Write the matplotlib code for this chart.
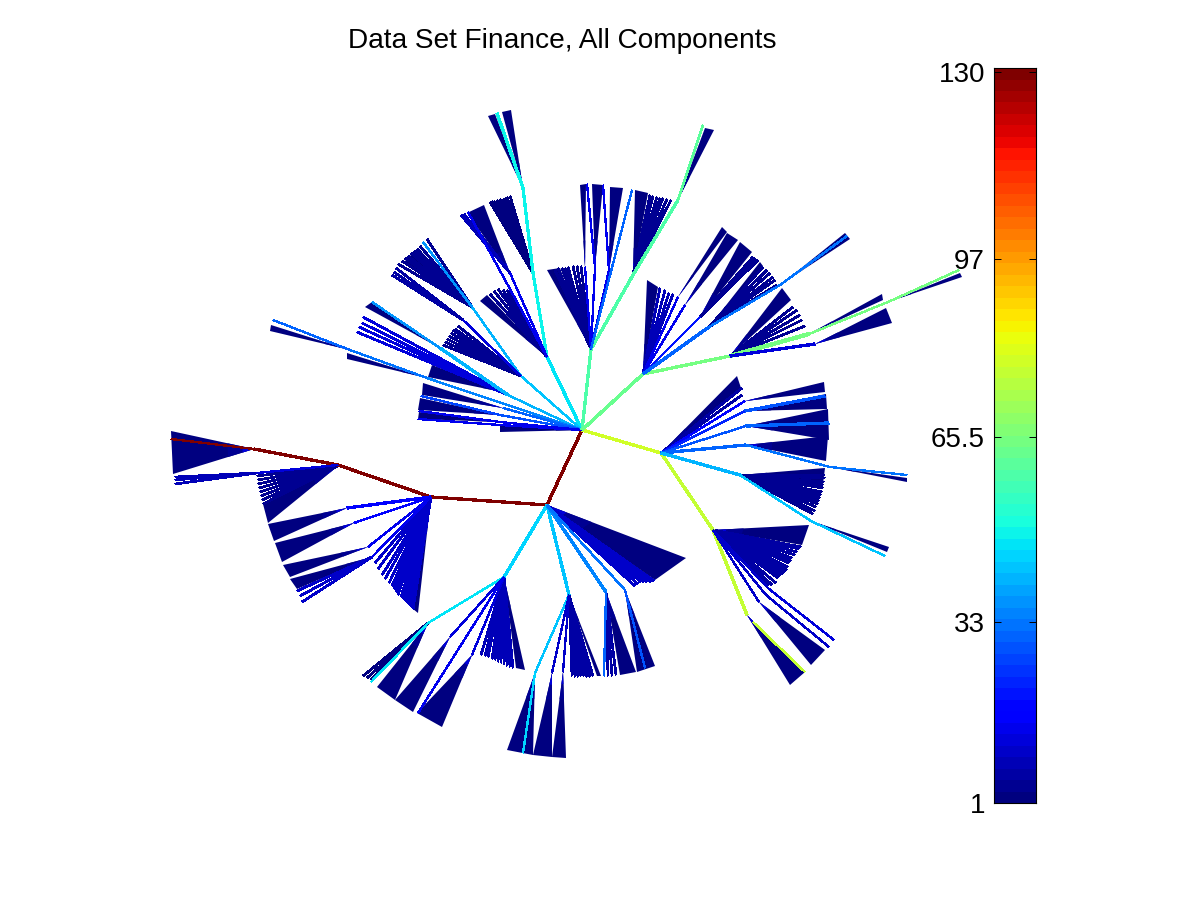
from matplotlib import pyplot as plt
import numpy as np
plt.rcParams['font.family'] = ['Liberation Sans', 'DejaVu Sans']

# colour value of every edge goes through the colorbar scale
clim = (1, 130.7)
cbar_ticks = [1, 33, 65.5, 97, 130]
cbar_labels = ['1', '33', '65.5', '97', '130']
title = 'Data Set Finance, All Components'

# x0, y0, x1, y1, value, width in pixels
trunk_edges = [
    (582, 430, 547, 505, 130.7, 2), (547, 505, 431, 497, 130.7, 2), (431, 497, 338, 465, 130.7, 2),
    (338, 465, 254, 449, 130.7, 2), (254, 449, 171, 439, 130, 1),
    (582, 430, 661, 453, 80, 2), (661, 453, 713, 530, 78, 2), (713, 530, 747, 615, 78, 2),
    (753, 622, 805, 672, 77, 1),
]
upper_edges = [
    (582, 430, 547, 357, 47, 2), (547, 357, 533, 273, 48, 2), (533, 273, 523, 188, 48, 2), (523, 188, 497, 113, 48, 2),
    (582, 430, 521, 376, 42, 1), (521, 376, 472, 307, 41, 1), (472, 307, 423, 242, 37, 1), (521, 376, 463, 320, 12, 1),
    (547, 357, 510, 273, 14, 1), (547, 357, 468, 212, 15, 1),
    (582, 430, 508, 395, 40, 1), (508, 395, 440, 348, 40, 2), (440, 348, 372, 302, 37, 1),
    (582, 430, 427, 378, 34, 1), (427, 378, 350, 350, 32, 1), (350, 350, 273, 320, 31, 1),
    (582, 430, 503, 408, 30, 1), (582, 430, 500, 415, 28, 1), (500, 415, 421, 396, 26, 1),
    (582, 430, 500, 422, 15, 1), (500, 422, 419, 411, 15, 1), (582, 430, 500, 425, 14, 1), (500, 425, 418, 419, 15, 1),
    (582, 430, 591, 349, 58, 2), (591, 349, 633, 275, 58, 2), (633, 275, 678, 200, 58, 2), (678, 200, 703, 125, 60, 1),
    (591, 349, 585, 267, 14, 1), (591, 349, 595, 267, 14, 1), (591, 349, 609, 270, 15, 1),
    (591, 349, 632, 190, 31, 1), (595, 267, 587, 184, 14, 1), (609, 270, 603, 185, 14, 1),
    (582, 430, 643, 374, 62, 2), (643, 374, 730, 356, 65, 2), (730, 356, 809, 334, 65, 3),
    (809, 334, 888, 302, 65, 1), (888, 302, 959, 270, 65, 1),
    (643, 374, 678, 297, 15, 1), (643, 374, 685, 305, 14, 1), (643, 374, 700, 317, 20, 1),
    (643, 374, 709, 327, 30, 2), (709, 327, 780, 285, 33, 1), (780, 285, 847, 236, 33, 1),
    (730, 356, 815, 344, 12, 2),
]
right_edges = [
    (661, 453, 745, 401, 16, 1), (661, 453, 745, 411, 22, 1), (661, 453, 746, 426, 28, 1),
    (661, 453, 746, 445, 31, 2), (661, 453, 740, 475, 41, 2),
    (745, 411, 825, 396, 28, 2), (746, 426, 829, 423, 30, 2), (746, 445, 830, 467, 32, 1), (830, 467, 907, 475, 32, 1),
    (740, 475, 811, 521, 42, 1), (811, 521, 885, 556, 42, 1),
    (713, 530, 769, 589, 10, 1), (769, 589, 834, 640, 12, 1), (713, 530, 766, 595, 10, 1),
    (766, 595, 829, 647, 11, 1), (713, 530, 759, 602, 11, 1),
]
lower_edges = [
    (547, 505, 504, 577, 45, 2), (504, 577, 428, 623, 47, 1), (428, 623, 371, 682, 47, 1),
    (504, 577, 450, 637, 12, 1), (504, 577, 472, 655, 12, 1), (504, 577, 418, 713, 15, 1),
    (547, 505, 569, 595, 43, 2), (569, 595, 535, 673, 43, 1), (535, 673, 523, 753, 44, 1),
    (569, 595, 552, 673, 10, 1), (569, 595, 563, 672, 10, 1),
    (547, 505, 606, 592, 34, 2), (606, 592, 604, 676, 31, 1), (547, 505, 625, 590, 33, 1), (625, 590, 645, 668, 28, 1),
    (431, 497, 347, 508, 16, 2), (431, 497, 354, 523, 16, 1), (431, 497, 368, 547, 15, 1), (431, 497, 372, 557, 15, 1),
    (338, 465, 257, 473, 12, 1),
]

# apex x, y, then the two outer tips of a closely packed group of leaves
wedges = [
    (254, 449, 171, 431, 173, 474), (338, 466, 263, 504, 268, 523), (347, 508, 268, 524, 274, 541),
    (354, 523, 275, 543, 282, 562), (368, 547, 283, 565, 290, 577), (372, 557, 290, 579, 297, 589),
    (431, 497, 413, 609, 418, 613),
    (523, 188, 502, 112, 511, 110), (523, 188, 488, 116, 495, 114), (510, 273, 467, 213, 484, 205),
    (547, 357, 480, 301, 487, 295), (472, 307, 404, 262, 418, 248), (440, 348, 365, 307, 372, 302),
    (507, 393, 432, 365, 428, 377), (427, 378, 347, 353, 347, 359), (350, 350, 271, 325, 270, 331),
    (503, 408, 423, 383, 422, 395), (500, 415, 420, 398, 418, 410), (500, 422, 419, 412, 418, 419),
    (582, 430, 500, 425, 500, 432),
    (585, 267, 580, 185, 586, 184), (595, 267, 592, 184, 603, 185), (609, 270, 610, 187, 623, 188),
    (591, 349, 547, 270, 560, 268), (633, 275, 635, 190, 648, 193), (678, 200, 705, 128, 714, 130),
    (643, 374, 647, 280, 658, 287), (678, 297, 722, 227, 727, 232), (685, 305, 727, 233, 738, 240),
    (700, 317, 740, 242, 752, 252), (709, 327, 760, 262, 763, 266), (780, 285, 845, 233, 850, 239),
    (730, 356, 782, 288, 791, 300), (809, 334, 882, 294, 883, 300), (888, 302, 960, 273, 962, 277),
    (815, 344, 886, 308, 892, 323),
    (661, 453, 737, 376, 741, 388), (745, 401, 824, 382, 825, 392), (745, 411, 826, 394, 827, 409),
    (746, 426, 828, 409, 829, 440), (746, 445, 828, 436, 826, 461), (830, 467, 907, 478, 907, 482),
    (740, 475, 825, 468, 823, 484), (811, 521, 889, 547, 887, 552), (713, 530, 809, 525, 802, 545),
    (759, 602, 825, 650, 811, 665), (747, 615, 790, 685, 805, 672),
    (428, 623, 377, 687, 395, 700), (450, 637, 395, 700, 413, 712), (472, 655, 417, 713, 442, 727),
    (504, 577, 516, 668, 525, 670), (535, 673, 507, 750, 533, 755), (552, 673, 533, 755, 552, 757),
    (563, 672, 552, 757, 566, 758), (569, 595, 597, 676, 601, 676), (606, 592, 620, 675, 636, 672),
    (625, 590, 637, 672, 655, 666), (547, 505, 686, 558, 655, 580),
]

# apex x, y, value, tips of the leaves that can still be told apart
fans = [
    (338, 466, 5, [(257, 476), (258, 480), (258, 484), (259, 488), (260, 492), (261, 496), (262, 500), (263, 504)]),
    (257, 473, 8, [(175, 477), (175, 480), (175, 484)]),
    (372, 557, 10, [(297, 591), (300, 596), (302, 602)]),
    (431, 497, 10, [(375, 563), (378, 569), (382, 575), (385, 579), (389, 583), (392, 586), (394, 589), (396, 592),
                    (398, 595), (401, 597), (403, 599), (405, 601), (407, 603), (409, 605), (411, 607), (413, 609)]),
    (533, 273, 3, [(490, 202), (492, 201), (494, 201), (497, 200), (500, 199), (503, 199), (505, 198), (507, 197), (510, 196)]),
    (510, 273, 8, [(461, 215), (464, 214)]),
    (547, 357, 5, [(490, 294), (494, 291), (498, 289), (503, 290), (507, 290)]),
    (472, 307, 5, [(398, 264), (402, 261), (405, 258), (408, 256), (411, 253), (414, 251), (417, 249), (420, 246), (427, 239)]),
    (463, 320, 6, [(392, 275), (394, 272), (396, 268)]),
    (521, 376, 4, [(443, 345), (445, 342), (447, 339), (449, 336), (451, 333), (453, 330), (455, 329), (458, 326)]),
    (508, 395, 12, [(363, 317), (362, 323), (359, 327), (357, 332)]),
    (591, 349, 5, [(555, 270), (558, 268), (562, 268), (565, 268), (568, 267), (573, 266), (577, 266), (581, 266)]),
    (633, 275, 4, [(650, 195), (653, 196), (657, 197), (660, 198), (663, 198), (667, 199), (671, 200)]),
    (643, 374, 8, [(660, 288), (665, 290), (669, 293), (673, 294)]),
    (700, 317, 5, [(753, 257), (755, 258), (758, 260)]),
    (709, 327, 5, [(763, 267), (767, 270), (770, 273), (773, 277), (775, 280), (777, 285)]),
    (730, 356, 5, [(793, 307), (797, 310), (800, 315), (802, 320), (805, 326)]),
    (661, 453, 6, [(742, 388), (742, 395)]),
    (740, 475, 5, [(825, 475), (825, 478), (824, 482), (823, 485), (823, 488), (822, 492), (821, 495), (820, 498),
                   (819, 501), (818, 504), (816, 507), (815, 511), (813, 514)]),
    (713, 530, 6, [(801, 547), (799, 549), (797, 552), (795, 555), (792, 558), (791, 561), (789, 563), (788, 567),
                   (787, 570), (785, 572), (783, 574), (780, 576), (778, 578), (776, 583), (772, 585), (768, 586)]),
    (428, 623, 3, [(363, 676), (367, 678), (371, 680)]),
    (504, 577, 8, [(481, 655), (485, 656), (488, 657), (492, 659), (495, 660), (498, 662), (501, 663), (504, 665),
                   (507, 666), (510, 667), (513, 668)]),
    (569, 595, 6, [(572, 676), (575, 677), (578, 677), (581, 676), (584, 676), (587, 677), (590, 677), (593, 676)]),
    (606, 592, 6, [(608, 676), (612, 676), (616, 675)]),
    (547, 505, 10, [(654, 581), (651, 582), (647, 582), (644, 582), (641, 582), (638, 584), (635, 586)]),
]

# how far along a wedge the crowded lines still read as a brighter blue
apex_shades = [(0.32, 5), (0.14, 12)]


def colour(value):
    return jet((value - clim[0]) / (clim[1] - clim[0]))


def draw_line(x, y, value, width):
    # width in pixels, the axes run at 100 dpi
    ax.plot(x, y, color=colour(value), lw=width * 0.72, antialiased=False, solid_capstyle='butt', zorder=3)


jet = plt.get_cmap('jet', 64)
fig = plt.figure(figsize=(12, 9), dpi=100)
ax = fig.add_axes([0, 0, 1, 1])
ax.set_xlim(0, 1200)
ax.set_ylim(900, 0)
ax.axis('off')

for w in wedges:
    ax.fill([w[0], w[2], w[4]], [w[1], w[3], w[5]], color=colour(1), lw=0, zorder=1)
    for t, v in apex_shades:
        ax.fill([w[0], w[0] + t * (w[2] - w[0]), w[0] + t * (w[4] - w[0])],
                [w[1], w[1] + t * (w[3] - w[1]), w[1] + t * (w[5] - w[1])], color=colour(v), lw=0, zorder=2)
for x0, y0, v, tips in fans:
    for tx, ty in tips:
        draw_line([x0, tx], [y0, ty], v, 1.7)
for group in [trunk_edges, upper_edges, right_edges, lower_edges]:
    for x0, y0, x1, y1, v, lw in group:
        draw_line([x0, x1], [y0, y1], v, lw + 0.3)

ax.text(562, 41, title, fontsize=20.2, ha='center', va='center', color='black')

# colorbar, pixel box 994..1036 x 68..803
cax = fig.add_axes([994 / 1200, 1 - 803 / 900, 42 / 1200, 735 / 900])
levels = np.linspace(clim[0], clim[1], 64).reshape(-1, 1)
cax.imshow(levels, cmap=jet, origin='lower', aspect='auto', extent=(0, 1, clim[0], clim[1]), vmin=clim[0], vmax=clim[1])
cax.set_xticks([])
cax.set_yticks(cbar_ticks)
cax.set_yticklabels(cbar_labels, fontsize=20)
cax.tick_params(axis='y', direction='in', left=True, right=True, length=5, width=0.7, pad=6.5)

fig.savefig('out.png', dpi=100)
